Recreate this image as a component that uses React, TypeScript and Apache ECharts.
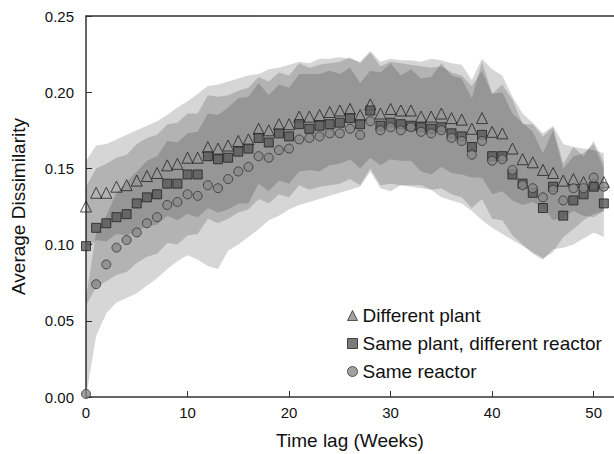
import React, { useEffect, useRef } from "react";
import * as echarts from "echarts";

const weeks = [0,1,2,3,4,5,6,7,8,9,10,11,12,13,14,15,16,17,18,19,20,21,22,23,24,25,26,27,28,29,30,31,32,33,34,35,36,37,38,39,40,41,42,43,44,45,46,47,48,49,50,51];

const differentPlant = [0.125,0.134,0.134,0.138,0.139,0.142,0.145,0.147,0.152,0.153,0.157,0.157,0.164,0.163,0.165,0.168,0.169,0.176,0.175,0.179,0.179,0.184,0.184,0.185,0.187,0.188,0.189,0.185,0.192,0.186,0.189,0.188,0.188,0.184,0.184,0.186,0.183,0.182,0.176,0.183,0.174,0.173,0.163,0.156,0.154,0.149,0.147,0.142,0.143,0.141,0.140,0.141];
const samePlant = [0.099,0.111,0.114,0.118,0.120,0.127,0.131,0.133,0.140,0.140,0.146,0.146,0.158,0.156,0.157,0.161,0.163,0.170,0.167,0.173,0.171,0.179,0.176,0.178,0.179,0.180,0.183,0.179,0.188,0.178,0.180,0.179,0.178,0.177,0.176,0.177,0.173,0.171,0.164,0.172,0.158,0.158,0.146,0.140,0.134,0.124,0.138,0.119,0.129,0.133,0.138,0.127];
const sameReactor = [0.002,0.074,0.087,0.098,0.103,0.108,0.114,0.118,0.126,0.128,0.133,0.132,0.139,0.137,0.143,0.148,0.151,0.158,0.157,0.162,0.163,0.169,0.170,0.171,0.173,0.173,0.176,0.172,0.181,0.175,0.177,0.175,0.177,0.174,0.173,0.175,0.170,0.168,0.159,0.168,0.155,0.156,0.149,0.139,0.137,0.131,0.136,0.129,0.137,0.137,0.144,0.138];

// Shaded ranges (lower / upper) for each group
const differentPlantLow = [0.095,0.103,0.102,0.107,0.106,0.109,0.112,0.113,0.119,0.116,0.120,0.118,0.124,0.121,0.123,0.127,0.127,0.140,0.135,0.142,0.140,0.148,0.149,0.148,0.152,0.153,0.156,0.150,0.157,0.152,0.156,0.155,0.155,0.148,0.146,0.151,0.147,0.146,0.144,0.144,0.133,0.135,0.129,0.126,0.128,0.125,0.116,0.118,0.122,0.119,0.118,0.122];
const differentPlantHigh = [0.155,0.165,0.166,0.169,0.172,0.175,0.178,0.181,0.185,0.190,0.194,0.199,0.204,0.205,0.207,0.209,0.211,0.212,0.215,0.216,0.218,0.220,0.219,0.222,0.222,0.223,0.222,0.220,0.227,0.220,0.222,0.221,0.221,0.220,0.222,0.221,0.219,0.218,0.208,0.222,0.215,0.211,0.197,0.186,0.180,0.173,0.178,0.166,0.164,0.163,0.162,0.160];
const samePlantLow = [0.060,0.072,0.076,0.080,0.082,0.088,0.092,0.094,0.101,0.100,0.106,0.107,0.117,0.114,0.117,0.121,0.123,0.130,0.127,0.133,0.131,0.139,0.136,0.138,0.139,0.140,0.143,0.139,0.150,0.139,0.140,0.139,0.138,0.137,0.136,0.137,0.133,0.131,0.124,0.130,0.117,0.116,0.106,0.100,0.094,0.090,0.097,0.098,0.100,0.104,0.108,0.105];
const samePlantHigh = [0.138,0.150,0.153,0.157,0.159,0.166,0.170,0.172,0.179,0.180,0.186,0.186,0.198,0.197,0.198,0.201,0.203,0.210,0.207,0.213,0.211,0.219,0.216,0.218,0.219,0.220,0.223,0.219,0.226,0.217,0.220,0.219,0.218,0.217,0.216,0.217,0.213,0.211,0.204,0.214,0.199,0.200,0.186,0.180,0.174,0.160,0.175,0.150,0.158,0.160,0.166,0.150];
const sameReactorLow = [0.000,0.040,0.055,0.062,0.065,0.068,0.073,0.078,0.084,0.089,0.093,0.090,0.086,0.084,0.096,0.100,0.105,0.110,0.116,0.119,0.123,0.126,0.128,0.130,0.132,0.134,0.136,0.138,0.148,0.137,0.135,0.139,0.139,0.139,0.136,0.131,0.129,0.127,0.122,0.116,0.111,0.107,0.103,0.099,0.095,0.091,0.095,0.105,0.110,0.116,0.120,0.122];
const sameReactorHigh = [0.065,0.108,0.119,0.134,0.141,0.148,0.155,0.158,0.168,0.167,0.173,0.174,0.186,0.185,0.190,0.196,0.197,0.206,0.198,0.205,0.203,0.212,0.212,0.212,0.214,0.212,0.216,0.206,0.214,0.213,0.219,0.211,0.215,0.209,0.210,0.219,0.211,0.209,0.196,0.220,0.199,0.205,0.195,0.179,0.179,0.171,0.177,0.153,0.164,0.158,0.168,0.154];

const yTicks = ["0.00", "0.05", "0.10", "0.15", "0.20", "0.25"];

const FONT = "Liberation Sans, Arial, sans-serif";

function bandSeries(low: number[], high: number[]) {
  return {
    type: "custom",
    silent: true,
    z: 1,
    data: weeks.map((w, i) => [w, low[i], high[i]]),
    encode: { x: 0, y: [1, 2] },
    renderItem: (params: any, api: any) => {
      if (params.dataIndex !== 0) return null;
      const pts: number[][] = [];
      for (let i = 0; i < weeks.length; i++) pts.push(api.coord([weeks[i], high[i]]));
      for (let i = weeks.length - 1; i >= 0; i--) pts.push(api.coord([weeks[i], low[i]]));
      return {
        type: "polygon",
        shape: { points: pts },
        style: { fill: "rgba(0,0,0,0.16)" },
      };
    },
  };
}

export default function App() {
  const ref = useRef<HTMLDivElement>(null);
  useEffect(() => {
    if (!ref.current) return;
    const chart = echarts.init(ref.current, null, { renderer: "svg" });
    const option: any = {
      animation: false,
      backgroundColor: "#ffffff",
      textStyle: { fontFamily: FONT },
      grid: { left: 86, right: 0, top: 16, bottom: 57, containLabel: false, outerBoundsMode: "none" },
      legend: {
        orient: "vertical",
        left: 342,
        top: 301,
        itemWidth: 10,
        itemHeight: 10,
        itemGap: 9,
        textStyle: { fontFamily: FONT, fontSize: 19, color: "#111" },
        data: [
          { name: "Different plant", icon: "triangle", itemStyle: { color: "#8a8a8a", borderColor: "#333", borderWidth: 1 } },
          { name: "Same plant, different reactor", icon: "rect", itemStyle: { color: "#5a5a5a", borderColor: "#222", borderWidth: 1 } },
          { name: "Same reactor", icon: "circle", itemStyle: { color: "#8a8a8a", borderColor: "#333", borderWidth: 1 } },
        ],
      },
      xAxis: [
        {
          type: "value",
          min: 0,
          max: 52,
          interval: 10,
          name: "Time lag (Weeks)",
          nameLocation: "middle",
          nameGap: 34,
          nameTextStyle: { fontFamily: FONT, fontSize: 19, color: "#111" },
          axisLine: { show: true, lineStyle: { color: "#333", width: 1.5 } },
          axisTick: { show: true, inside: true, length: 6, lineStyle: { color: "#333" } },
          axisLabel: { fontFamily: FONT, fontSize: 15, color: "#111", margin: 8, showMaxLabel: false },
          splitLine: { show: false },
        },
        {
          type: "value",
          position: "top",
          min: 0,
          max: 52,
          axisLine: { show: true, lineStyle: { color: "#333", width: 1.5 } },
          axisTick: { show: false },
          axisLabel: { show: false },
          splitLine: { show: false },
        },
      ],
      yAxis: {
        type: "value",
        min: 0,
        max: 0.25,
        interval: 0.05,
        name: "Average Dissimilarity",
        nameLocation: "middle",
        nameGap: 58,
        nameRotate: 90,
        nameTextStyle: { fontFamily: FONT, fontSize: 19, color: "#111" },
        axisLine: { show: true, lineStyle: { color: "#333", width: 1.5 } },
        axisTick: { show: true, inside: true, length: 6, lineStyle: { color: "#333" } },
        axisLabel: {
          fontFamily: FONT,
          fontSize: 15,
          color: "#111",
          margin: 12,
          formatter: (v: number) => yTicks[Math.round(v / 0.05)] ?? v.toFixed(2),
        },
        splitLine: { show: false },
      },
      series: [
        bandSeries(differentPlantLow, differentPlantHigh),
        bandSeries(samePlantLow, samePlantHigh),
        bandSeries(sameReactorLow, sameReactorHigh),
        {
          name: "Different plant",
          type: "scatter",
          symbol: "triangle",
          symbolSize: 11,
          data: weeks.map((w, i) => [w, differentPlant[i]]),
          itemStyle: { color: "rgba(0,0,0,0)", borderColor: "#222", borderWidth: 1 },
          z: 3,
        },
        {
          name: "Same plant, different reactor",
          type: "scatter",
          symbol: "rect",
          symbolSize: 9,
          data: weeks.map((w, i) => [w, samePlant[i]]),
          itemStyle: { color: "#5a5a5a", borderColor: "#222", borderWidth: 1 },
          z: 4,
        },
        {
          name: "Same reactor",
          type: "scatter",
          symbol: "circle",
          symbolSize: 9,
          data: weeks.map((w, i) => [w, sameReactor[i]]),
          itemStyle: { color: "#8a8a8a", borderColor: "#333", borderWidth: 1 },
          z: 5,
        },
      ],
    };
    chart.setOption(option);
    return () => chart.dispose();
  }, []);
  return <div ref={ref} style={{ width: 614, height: 454, position: "absolute", left: 0, top: 0 }} />;
}
